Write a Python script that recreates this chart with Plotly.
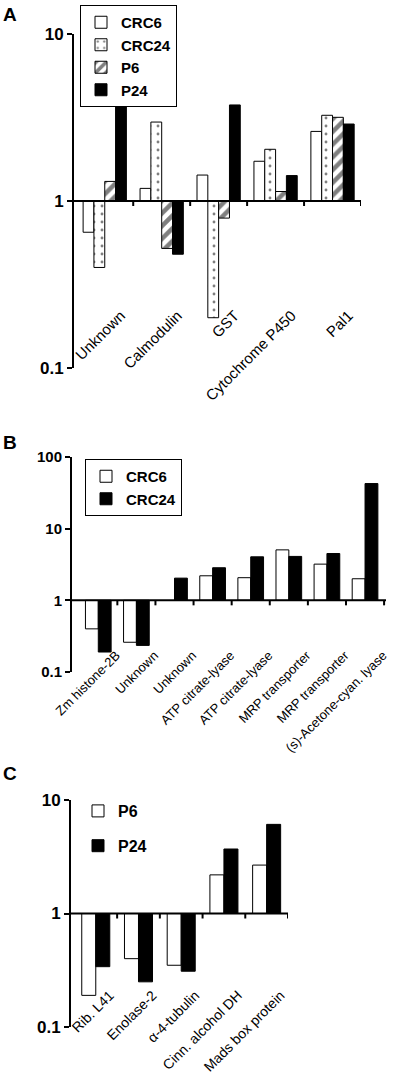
import plotly.graph_objects as go

# ---------------- data ----------------
a_genes = ["Unknown", "Calmodulin", "GST", "Cytochrome P450", "Pal1"]
a_crc6 = [0.65, 1.19, 1.43, 1.73, 2.61]
a_crc24 = [0.40, 2.97, 0.20, 2.04, 3.26]
a_p6 = [1.31, 0.52, 0.79, 1.14, 3.17]
a_p24 = [3.74, 0.48, 3.76, 1.42, 2.89]

b_genes = ["Zm histone-2B", "Unknown", "Unknown", "ATP citrate-lyase",
           "ATP citrate-lyase", "MRP transporter", "MRP transporter",
           "(s)-Acetone-cyan. lyase"]
b_crc6 = [0.40, 0.26, None, 2.20, 2.07, 5.06, 3.20, 2.00]
b_crc24 = [0.19, 0.235, 2.04, 2.85, 4.05, 4.10, 4.50, 42.6]

c_genes = ["Rib. L41", "Enolase-2", "α-4-tubulin", "Cinn. alcohol DH", "Mads box protein"]
c_p6 = [0.19, 0.40, 0.35, 2.19, 2.67]
c_p24 = [0.34, 0.25, 0.31, 3.70, 6.10]

y_ticks_a = [0.1, 1, 10]
y_ticks_b = [0.1, 1, 10, 100]
y_ticks_c = [0.1, 1, 10]

# ---------------- page geometry ----------------
W, H = 400, 1084


def px_x(px):
    return px / W


def px_y(py):
    return 1 - py / H


# ---------------- styles ----------------
FONT = "Liberation Sans, Arial, Helvetica, sans-serif"
OUT = dict(color="black", width=1)
st_white = dict(color="white", line=OUT)
st_black = dict(color="black", line=OUT)
st_dots = dict(color="white", line=OUT,
               pattern=dict(shape=".", fgcolor="black", bgcolor="white", size=8, solidity=0.1))
st_stripe = dict(color="white", line=OUT,
                 pattern=dict(shape="/", fgcolor="black", bgcolor="white", size=9, solidity=0.5))
AXLINE = dict(color="black", width=2)

fig = go.Figure()


def add_group(names, series, styles, xa, ya, width, legend):
    n = len(series)
    for k, ((label, vals), st) in enumerate(zip(series, styles)):
        xs = list(range(len(names)))
        ys = [None if v is None else v - 1 for v in vals]
        fig.add_trace(go.Bar(
            x=xs, y=ys, base=1, name=label, marker=st,
            width=width, offset=-n * width / 2 + k * width,
            xaxis=xa, yaxis=ya, legend=legend, legendgroup=legend + label,
        ))


add_group(a_genes, [("CRC6", a_crc6), ("CRC24", a_crc24), ("P6", a_p6), ("P24", a_p24)],
          [st_white, st_dots, st_stripe, st_black], "x", "y", 0.19, "legend")
add_group(b_genes, [("CRC6", b_crc6), ("CRC24", b_crc24)],
          [st_white, st_black], "x2", "y2", 0.337, "legend2")
add_group(c_genes, [("P6", c_p6), ("P24", c_p24)],
          [st_white, st_black], "x3", "y3", 0.328, "legend3")

# ---------------- axes ----------------
panels = [
    # names, xdom px, ydom px (bottom, top), yrange, xrange, yticks, yfont, xfont, standoff, shift
    (a_genes, (74, 361), (368, 34), [-1, 1], [-0.54, 4.5], y_ticks_a, 17, 15, 102, 16),
    (b_genes, (72, 386), (672, 457), [-1, 2], [-0.69, 7.55], y_ticks_b, 15, 13, 44, 18),
    (c_genes, (71, 288), (1027, 800), [-1, 1], [-0.58, 4.5], y_ticks_c, 17, 14, 70, 14),
]

layout = {}
shapes = []
for i, (names, xd, yd, yr, xr, yt, yfs, xfs, so, sh) in enumerate(panels):
    sfx = "" if i == 0 else str(i + 1)
    ydom = [px_y(yd[0]), px_y(yd[1])]
    xdom = [px_x(xd[0]), px_x(xd[1])]
    frac1 = (0 - yr[0]) / (yr[1] - yr[0])          # where the value 1 sits in the y domain
    pos1 = ydom[0] + frac1 * (ydom[1] - ydom[0])   # same, in paper units
    layout["yaxis" + sfx] = dict(
        domain=ydom, type="log", range=yr, anchor="x" + sfx, automargin=False,
        tickmode="array", tickvals=yt, ticktext=[f"{v:g}" for v in yt],
        tickfont=dict(family=FONT, size=yfs, color="black", weight="bold"),
        ticks="outside", ticklen=5, tickwidth=2, tickcolor="black",
        showline=True, linewidth=2, linecolor="black",
        showgrid=False, zeroline=False,
    )
    layout["xaxis" + sfx] = dict(
        domain=xdom, range=xr, anchor="free", position=pos1,
        automargin=False,
        tickmode="array", tickvals=list(range(len(names))), ticktext=names,
        ticks="", tickangle=-45,
        tickfont=dict(family=FONT, size=xfs, color="black"),
        ticklabelstandoff=so, ticklabelshift=sh,
        showline=False, showgrid=False, zeroline=False,
    )
    # category axis line at the value 1, with ticks at the category boundaries
    shapes.append(dict(type="line", xref="paper", yref="paper", layer="above",
                       x0=xdom[0], x1=xdom[1], y0=pos1, y1=pos1, line=AXLINE))
    for k in range(len(names)):
        b = k + 0.5
        if b <= xr[1]:
            shapes.append(dict(type="line", xref="x" + sfx, yref="paper", layer="above",
                               x0=b, x1=b, y0=pos1, y1=pos1 - 5 / H, line=AXLINE))

leg_font = dict(family=FONT, size=15, color="black", weight="bold")
fig.update_layout(
    width=W, height=H, margin=dict(l=0, r=0, t=0, b=0, autoexpand=False),
    paper_bgcolor="white", plot_bgcolor="white",
    barmode="overlay", showlegend=True, shapes=shapes,
    legend=dict(x=px_x(80), y=px_y(5), xanchor="left", yanchor="top",
                bgcolor="white", bordercolor="black", borderwidth=1,
                font=leg_font, tracegroupgap=0, itemwidth=30),
    legend2=dict(x=px_x(85), y=px_y(459), xanchor="left", yanchor="top",
                 bgcolor="white", bordercolor="black", borderwidth=1,
                 font=leg_font, tracegroupgap=0, itemwidth=30),
    legend3=dict(x=px_x(78), y=px_y(794), xanchor="left", yanchor="top",
                 bgcolor="rgba(0,0,0,0)", borderwidth=0,
                 font=dict(family=FONT, size=16, color="black", weight="bold"),
                 tracegroupgap=11, itemwidth=30),
    **layout,
)

for letter, py in [("A", 2), ("B", 430), ("C", 761)]:
    fig.add_annotation(text=letter, x=px_x(1), y=px_y(py), xref="paper", yref="paper",
                       xanchor="left", yanchor="top", showarrow=False,
                       font=dict(family=FONT, size=19, color="black", weight="bold"))

fig.write_html("out.html", config={"displayModeBar": False},
               post_script="document.body.style.margin='0px';document.body.style.padding='0px';")
